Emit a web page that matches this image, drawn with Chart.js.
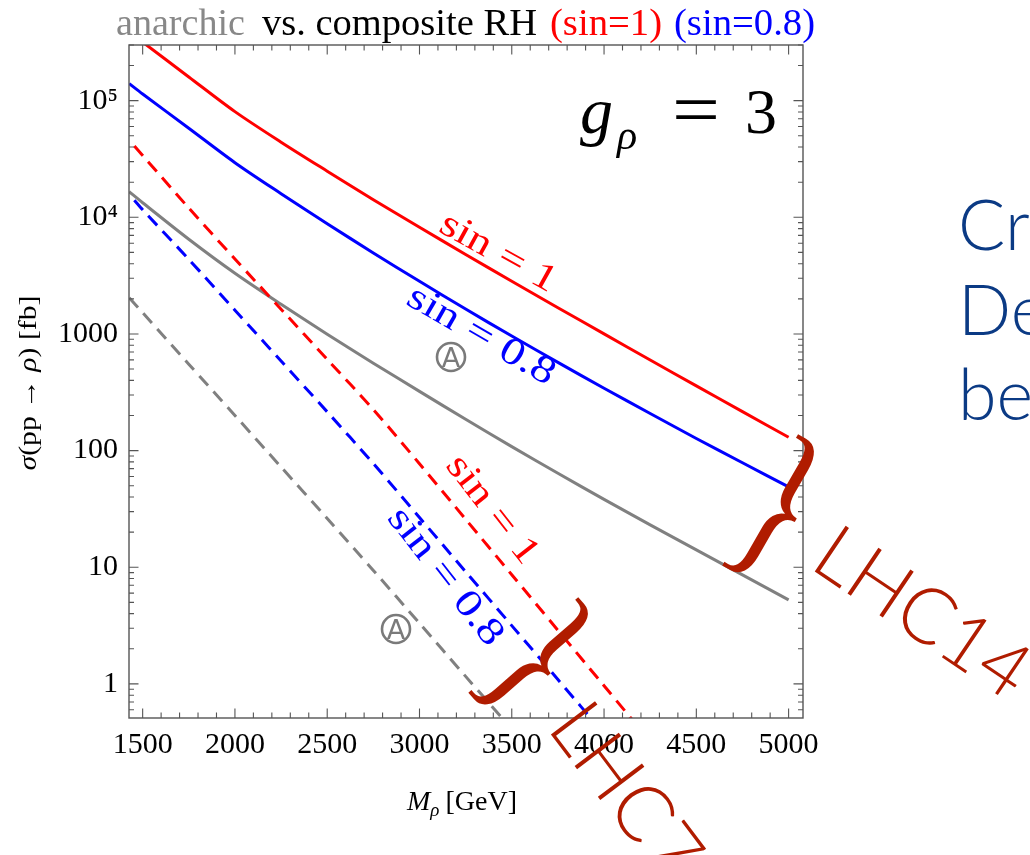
<!DOCTYPE html>
<html>
<head>
<meta charset="utf-8">
<script src="https://cdn.jsdelivr.net/npm/chart.js@4.4.0/dist/chart.umd.min.js"></script>
<style>
html,body{margin:0;padding:0;background:#fff;overflow:hidden;}
canvas{display:block;}
</style>
</head>
<body>
<canvas id="c" width="1030" height="855"></canvas>
<script>
// ---------------- data ----------------
const massGeV = [1427, 1500, 1750, 2000, 2250, 2500, 2750, 3000, 3250, 3500, 3750, 4000, 4250, 4500, 4750, 5000];
const lhc14CompositeSin1  = [387600, 317600, 159700, 80500, 44070, 24860, 14150, 8226, 4797, 2831, 1677, 1002, 598, 359, 216, 130];
const lhc14CompositeSin08 = [140000, 114000, 58000, 29400, 15940, 8810, 4950, 2826, 1635, 959, 570, 342, 208, 127, 78.6, 48.9];
const lhc14Anarchic       = [16580, 13340, 6490, 3316, 1797, 994, 561, 322, 185.5, 108.2, 63.9, 38.2, 23.1, 14.1, 8.61, 5.25];

const massLHC7Composite = [1455, 1500, 1750, 2000, 2250, 2500, 2750, 3000, 3250, 3500, 3750, 4000, 4250];
const lhc7CompositeSin1  = [40800, 33900, 12000, 4390, 1630, 605, 225, 77.1, 25.8, 8.63, 2.88, 0.964, 0.322];
const lhc7CompositeSin08 = [14000, 11600, 4360, 1600, 586, 215, 77.4, 26.7, 9.16, 3.16, 1.09, 0.374, 0.129];

const massLHC7Anarchic = [1427, 1500, 1750, 2000, 2250, 2500, 2750, 3000, 3250, 3500, 3750];
const lhc7Anarchic     = [2040, 1520, 551, 200, 72.3, 26.2, 9.39, 3.31, 1.16, 0.41, 0.143];

const xTicks = [1500, 2000, 2500, 3000, 3500, 4000, 4500, 5000];
const yTicks = [1, 10, 100, 1000, 10000, 100000];
const yTickLabels = ['1', '10', '100', '1000', '10\u2074', '10\u2075'];

// ---------------- helpers ----------------
const SERIF = '"Liberation Serif", "Times New Roman", serif';
const pts = (xs, ys) => xs.map((x, i) => ({x: x, y: ys[i]}));
const DEG = Math.PI / 180;

function piecewise(ctx, pieces, x, y) {
  let cx = x;
  pieces.forEach(p => {
    ctx.font = p.font;
    ctx.fillStyle = p.color || '#000';
    ctx.fillText(p.t, cx, y + (p.dy || 0));
    cx += ctx.measureText(p.t).width + (p.after || 0);
  });
  return cx - x;
}
function piecewiseWidth(ctx, pieces) {
  let w = 0;
  pieces.forEach(p => { ctx.font = p.font; w += ctx.measureText(p.t).width + (p.after || 0); });
  return w;
}
function mathLabel(ctx, parts, cx, cy, angle, size, color, totalLen) {
  ctx.save();
  ctx.font = size + 'px ' + SERIF;
  const gap = size * 0.26;
  const widths = parts.map(p => ctx.measureText(p).width);
  const natural = widths.reduce((a, b) => a + b, 0) + gap * (parts.length - 1);
  const sx = totalLen ? totalLen / natural : 1;
  ctx.translate(cx, cy);
  ctx.rotate(angle * DEG);
  ctx.scale(sx, 1);
  ctx.textBaseline = 'middle';
  ctx.textAlign = 'left';
  ctx.fillStyle = color;
  let x = -natural / 2;
  parts.forEach((p, i) => { ctx.fillText(p, x, 0); x += widths[i] + gap; });
  ctx.restore();
}
function brace(ctx, cx, cy, angle, len, sx, color) {
  ctx.save();
  ctx.font = '100px ' + SERIF;
  let m = ctx.measureText('}');
  const h = m.actualBoundingBoxAscent + m.actualBoundingBoxDescent;
  const size = 100 * len / h;
  ctx.font = size + 'px ' + SERIF;
  m = ctx.measureText('}');
  const offY = (m.actualBoundingBoxAscent - m.actualBoundingBoxDescent) / 2;
  const offX = (m.actualBoundingBoxRight - m.actualBoundingBoxLeft) / 2;
  ctx.translate(cx, cy);
  ctx.rotate(angle * DEG);
  ctx.scale(sx, 1);
  ctx.fillStyle = color;
  ctx.textAlign = 'left';
  ctx.textBaseline = 'alphabetic';
  ctx.fillText('}', -offX, offY);
  ctx.restore();
}
function anarchy(ctx, cx, cy) {
  ctx.save();
  ctx.strokeStyle = '#7a7a7a';
  ctx.fillStyle = '#7a7a7a';
  ctx.lineWidth = 2.6;
  ctx.beginPath();
  ctx.arc(cx, cy, 14, 0, 2 * Math.PI);
  ctx.stroke();
  ctx.font = '27px "DejaVu Sans", sans-serif';
  ctx.textAlign = 'center';
  ctx.textBaseline = 'alphabetic';
  ctx.fillText('A', cx, cy + 10);
  ctx.restore();
}
function rotatedText(ctx, str, x, y, angle, font, color) {
  ctx.save();
  ctx.translate(x, y);
  ctx.rotate(angle * DEG);
  ctx.font = font;
  ctx.fillStyle = color;
  ctx.textAlign = 'left';
  ctx.textBaseline = 'alphabetic';
  ctx.fillText(str, 0, 0);
  ctx.restore();
}

// ---------------- decorations plugin ----------------
const decorations = {
  id: 'decorations',
  afterDraw(chart) {
    const ctx = chart.ctx;
    const ca = chart.chartArea;
    const xs = chart.scales.x, ys = chart.scales.y;
    ctx.save();
    // frame
    ctx.strokeStyle = '#555';
    ctx.lineWidth = 1.4;
    ctx.strokeRect(ca.left, ca.top, ca.right - ca.left, ca.bottom - ca.top);
    // inward ticks, x
    ctx.lineWidth = 1.1;
    ctx.beginPath();
    for (let v = 1500; v <= 5000; v += 100) {
      const px = xs.getPixelForValue(v);
      const len = (v % 500 === 0) ? 9.5 : 5.5;
      ctx.moveTo(px, ca.bottom); ctx.lineTo(px, ca.bottom - len);
      ctx.moveTo(px, ca.top); ctx.lineTo(px, ca.top + len);
    }
    // inward ticks, y (log)
    for (let e = -1; e <= 5; e++) {
      for (let k = 1; k <= 9; k++) {
        const v = k * Math.pow(10, e);
        if (v < ys.min || v > ys.max) continue;
        const py = ys.getPixelForValue(v);
        const len = (k === 1) ? 9.5 : 5;
        ctx.moveTo(ca.left, py); ctx.lineTo(ca.left + len, py);
        ctx.moveTo(ca.right, py); ctx.lineTo(ca.right - len, py);
      }
    }
    ctx.stroke();

    // title
    const titleParts = [
      {t: 'anarchic', c: '#888888', x: 116, w: 129},
      {t: 'vs. composite RH', c: '#000000', x: 262, w: 275},
      {t: '(sin=1)', c: '#ff0000', x: 550, w: 112},
      {t: '(sin=0.8)', c: '#0000ff', x: 674, w: 141}
    ];
    ctx.font = '38px ' + SERIF;
    ctx.textBaseline = 'alphabetic';
    titleParts.forEach(p => {
      const m = ctx.measureText(p.t).width;
      ctx.save();
      ctx.translate(p.x, 35);
      ctx.scale(p.w / m, 1);
      ctx.fillStyle = p.c;
      ctx.fillText(p.t, 0, 0);
      ctx.restore();
    });

    // g_rho = 3
    ctx.fillStyle = '#000';
    ctx.font = 'italic 66px ' + SERIF;
    ctx.fillText('g', 580, 133);
    ctx.font = 'italic 42px ' + SERIF;
    ctx.fillText('\u03C1', 617, 149);
    ctx.save();
    ctx.font = '64px ' + SERIF;
    const eqw = ctx.measureText('=').width;
    ctx.translate(672, 134);
    ctx.scale(48 / eqw, 1.15);
    ctx.fillText('=', 0, 0);
    ctx.restore();
    ctx.font = '64px ' + SERIF;
    ctx.fillText('3', 745, 133);

    // axis titles
    const xt = [
      {t: 'M', font: 'italic 28px ' + SERIF},
      {t: '\u03C1', font: 'italic 19px ' + SERIF, dy: 6, after: 6},
      {t: '[GeV]', font: '28px ' + SERIF}
    ];
    piecewise(ctx, xt, 407, 810);

    const yt = [
      {t: '\u03C3', font: 'italic 26px ' + SERIF},
      {t: '(pp \u2192 ', font: '26px ' + SERIF},
      {t: '\u03C1', font: 'italic 26px ' + SERIF},
      {t: ') [fb]', font: '26px ' + SERIF}
    ];
    const ytw = piecewiseWidth(ctx, yt);
    ctx.save();
    ctx.translate(36, 383);
    ctx.rotate(-90 * DEG);
    ctx.scale(175 / ytw, 1);
    piecewise(ctx, yt, -ytw / 2, 0);
    ctx.restore();

    // curve labels
    mathLabel(ctx, ['sin', '=', '1'], 498, 253, 29, 38, '#ff0000', 128);
    mathLabel(ctx, ['sin', '=', '0.8'], 481, 336, 30, 38, '#0000ff', 165);
    mathLabel(ctx, ['sin', '=', '1'], 492, 510, 52, 38, '#ff0000', 128);
    mathLabel(ctx, ['sin', '=', '0.8'], 445, 577, 52, 38, '#0000ff', 165);
    anarchy(ctx, 451, 357);
    anarchy(ctx, 396, 629);

    // annotations (slide overlay)
    const annot = '#b01c00';
    brace(ctx, 778, 510, 30, 152, 0.75, annot);
    brace(ctx, 536, 660, 49, 146, 0.75, annot);
    rotatedText(ctx, 'LHC14', 808, 567, 34, '300 78px Lato, "Open Sans", sans-serif', annot);
    rotatedText(ctx, 'LHC7', 546, 728, 53, '300 78px Lato, "Open Sans", sans-serif', annot);

    ctx.fillStyle = '#0b3a84';
    ctx.font = '300 70px Lato, "Open Sans", sans-serif';
    ctx.fillText('Cross', 958, 250);
    ctx.fillText('Decay', 958, 335);
    ctx.fillText('be', 958, 420);
    ctx.restore();
  }
};

// ---------------- chart ----------------
const lineStyle = {borderWidth: 3, pointRadius: 0, fill: false, tension: 0.3, clip: 0};
new Chart(document.getElementById('c'), {
  type: 'line',
  data: {
    datasets: [
      Object.assign({data: pts(massLHC7Anarchic, lhc7Anarchic), borderColor: '#808080', borderDash: [13, 8]}, lineStyle),
      Object.assign({data: pts(massLHC7Composite, lhc7CompositeSin08), borderColor: '#0000ff', borderDash: [13, 8]}, lineStyle),
      Object.assign({data: pts(massLHC7Composite, lhc7CompositeSin1), borderColor: '#ff0000', borderDash: [13, 8]}, lineStyle),
      Object.assign({data: pts(massGeV, lhc14Anarchic), borderColor: '#808080'}, lineStyle),
      Object.assign({data: pts(massGeV, lhc14CompositeSin08), borderColor: '#0000ff'}, lineStyle),
      Object.assign({data: pts(massGeV, lhc14CompositeSin1), borderColor: '#ff0000'}, lineStyle)
    ]
  },
  options: {
    responsive: false,
    animation: false,
    devicePixelRatio: 1,
    layout: {padding: {top: 45, right: 227, left: 0, bottom: 0}},
    plugins: {legend: {display: false}, tooltip: {enabled: false}, title: {display: false}},
    scales: {
      x: {
        type: 'linear', min: 1426, max: 5078,
        grid: {display: false, drawTicks: false},
        border: {display: false},
        afterBuildTicks: s => { s.ticks = xTicks.map(v => ({value: v})); },
        afterFit: s => { s.height = 137; },
        ticks: {padding: 9, color: '#000', maxRotation: 0, autoSkip: false,
                font: {family: SERIF, size: 30}, callback: v => String(v)}
      },
      y: {
        type: 'logarithmic', min: 0.51, max: 300000,
        grid: {display: false, drawTicks: false},
        border: {display: false},
        afterBuildTicks: s => { s.ticks = yTicks.map(v => ({value: v, major: true})); },
        afterFit: s => { s.width = 129; },
        ticks: {padding: 11, color: '#000', autoSkip: false,
                font: {family: SERIF, size: 30},
                callback: v => { const i = yTicks.indexOf(v); return i >= 0 ? yTickLabels[i] : ''; }}
      }
    }
  },
  plugins: [decorations]
});
</script>
</body>
</html>
